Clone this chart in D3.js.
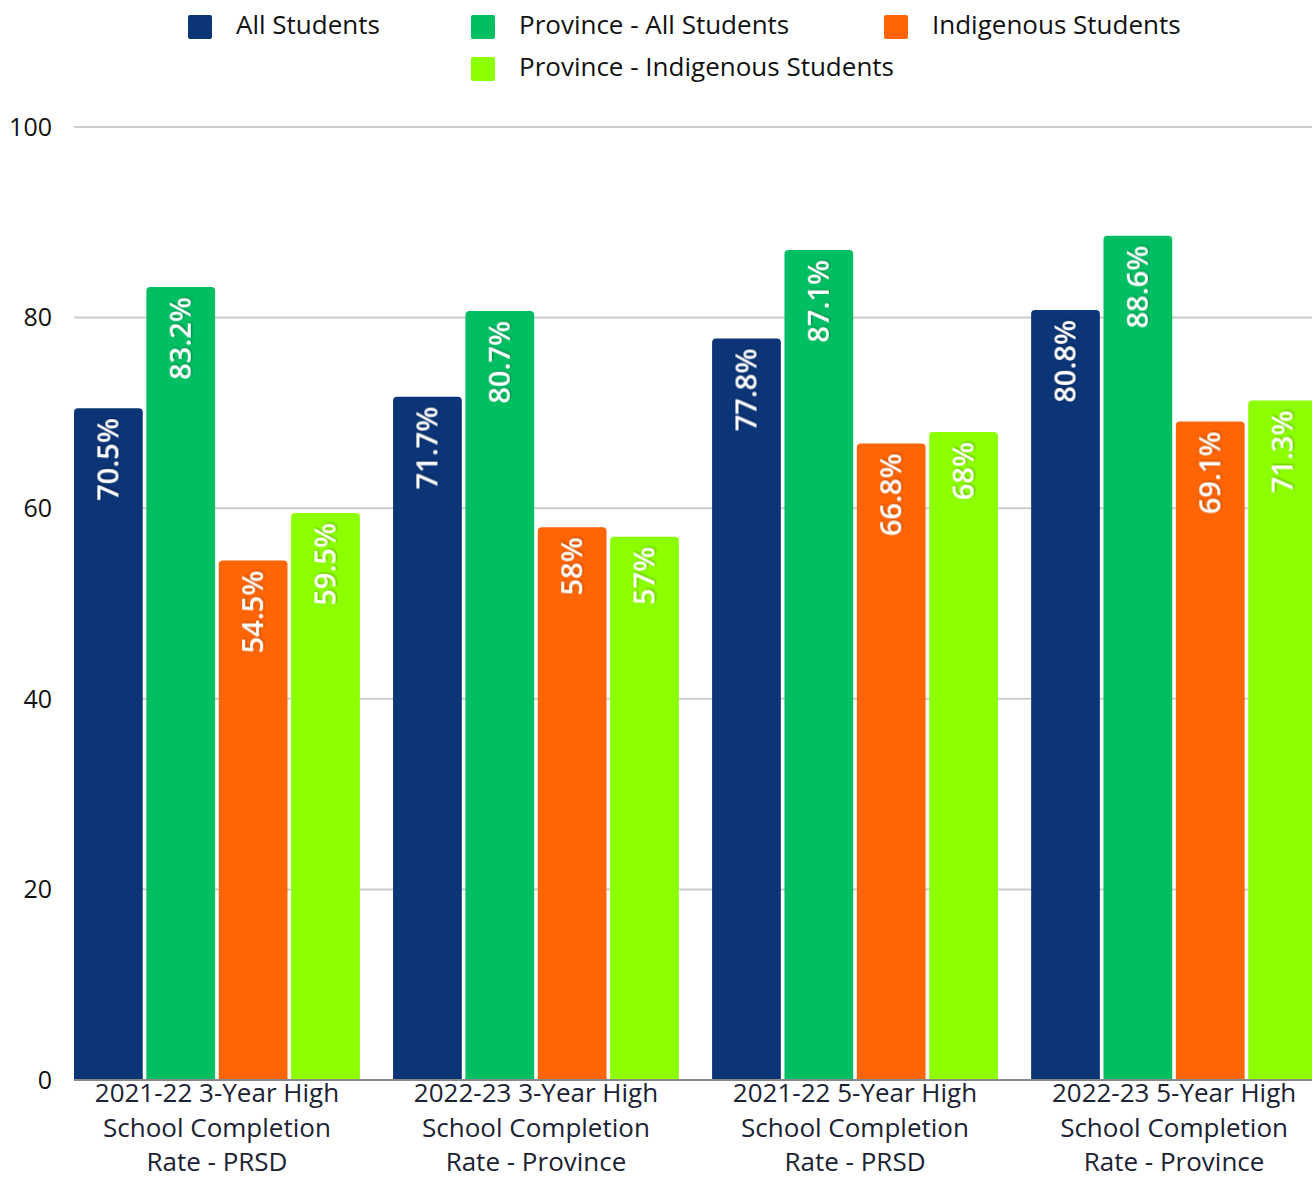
<!DOCTYPE html>
<html>
<head>
<meta charset="utf-8">
<script src="https://cdn.jsdelivr.net/npm/d3@7"></script>
<style>
  body { margin: 0; background: #fff; overflow: hidden; }
  text { font-family: "Open Sans", sans-serif; }
</style>
</head>
<body>
<svg id="chart" width="1312" height="1179"></svg>
<script>
var categories = [
  ["2021-22 3-Year High", "School Completion", "Rate - PRSD"],
  ["2022-23 3-Year High", "School Completion", "Rate - Province"],
  ["2021-22 5-Year High", "School Completion", "Rate - PRSD"],
  ["2022-23 5-Year High", "School Completion", "Rate - Province"]
];
var seriesNames = ["All Students", "Province - All Students", "Indigenous Students", "Province - Indigenous Students"];
var allStudents = [70.5, 71.7, 77.8, 80.8];
var provinceAll = [83.2, 80.7, 87.1, 88.6];
var indigenous = [54.5, 58, 66.8, 69.1];
var provinceIndigenous = [59.5, 57, 68, 71.3];
var yTicks = [0, 20, 40, 60, 80, 100];
var colors = ["#0b3577", "#00bf63", "#ff6505", "#8cff00"];

var seriesValues = [allStudents, provinceAll, indigenous, provinceIndigenous];

var svg = d3.select("#chart");
var plotLeft = 74, plotTop = 127, plotBottom = 1080;

var x0 = d3.scaleBand()
  .domain(d3.range(categories.length))
  .range([plotLeft, 1317])
  .paddingInner(0.104)
  .paddingOuter(0);

var x1 = d3.scaleBand()
  .domain(d3.range(seriesNames.length))
  .range([0, x0.bandwidth()])
  .paddingInner(0.05)
  .paddingOuter(0);

var y = d3.scaleLinear().domain([0, 100]).range([plotBottom, plotTop]);

var defs = svg.append("defs");
var f = defs.append("filter").attr("id", "shadow").attr("x", "-20%").attr("y", "-20%").attr("width", "140%").attr("height", "140%");
f.append("feDropShadow").attr("dx", 1).attr("dy", 1).attr("stdDeviation", 1).attr("flood-color", "#000").attr("flood-opacity", 0.35);

// grid + y labels
var yAxis = svg.append("g").attr("id", "yAxis");
yAxis.selectAll("line")
  .data(yTicks.filter(function(d) { return d > 0; }))
  .enter().append("line")
  .attr("x1", plotLeft).attr("x2", 1312)
  .attr("y1", function(d) { return y(d); })
  .attr("y2", function(d) { return y(d); })
  .attr("stroke", "#cccccc")
  .attr("stroke-width", 2);

yAxis.selectAll("text")
  .data(yTicks)
  .enter().append("text")
  .attr("x", 52)
  .attr("y", function(d) { return y(d); })
  .attr("dy", "0.35em")
  .attr("text-anchor", "end")
  .attr("font-size", 25)
  .attr("fill", "#111")
  .text(function(d) { return d; });

// bars, rounded top corners only
function barPath(x, yTop, w, h, r) {
  return "M" + x + "," + (yTop + h) +
    "V" + (yTop + r) +
    "Q" + x + "," + yTop + " " + (x + r) + "," + yTop +
    "H" + (x + w - r) +
    "Q" + (x + w) + "," + yTop + " " + (x + w) + "," + (yTop + r) +
    "V" + (yTop + h) + "Z";
}

var groups = svg.append("g").attr("id", "bars")
  .selectAll("g")
  .data(categories)
  .enter().append("g")
  .attr("transform", function(d, i) { return "translate(" + x0(i) + ",0)"; });

groups.each(function(cat, ci) {
  var g = d3.select(this);
  var rows = seriesValues.map(function(s, si) { return {series: si, value: s[ci]}; });

  g.selectAll("path")
    .data(rows)
    .enter().append("path")
    .attr("d", function(d) {
      return barPath(x1(d.series), y(d.value), x1.bandwidth(), plotBottom - y(d.value), 4);
    })
    .attr("fill", function(d) { return colors[d.series]; });

  g.selectAll("text.val")
    .data(rows)
    .enter().append("text")
    .attr("class", "val")
    .attr("transform", function(d) {
      return "translate(" + (x1(d.series) + x1.bandwidth() / 2) + "," + (y(d.value) + 10) + ") rotate(-90)";
    })
    .attr("dy", "0.35em")
    .attr("text-anchor", "end")
    .attr("font-size", 29)
    .attr("font-weight", 600)
    .attr("fill", "#fff")
    .attr("filter", "url(#shadow)")
    .text(function(d) { return d.value + "%"; });
});

// baseline
svg.append("line")
  .attr("x1", plotLeft).attr("x2", 1312)
  .attr("y1", plotBottom).attr("y2", plotBottom)
  .attr("stroke", "#888")
  .attr("stroke-width", 2);

// x labels
var xLab = svg.append("g").attr("id", "xAxis");
categories.forEach(function(lines, i) {
  var cx = x0(i) + x0.bandwidth() / 2;
  var t = xLab.append("text")
    .attr("x", cx)
    .attr("y", 1102)
    .attr("text-anchor", "middle")
    .attr("font-size", 26)
    .attr("fill", "#1b2233");
  lines.forEach(function(l, li) {
    t.append("tspan")
      .attr("x", cx)
      .attr("y", 1102 + li * 34.5)
      .text(l);
  });
});

// legend
var legendPos = [[188, 15], [471, 15], [884, 15], [471, 57]];
var legend = svg.append("g").attr("id", "legend")
  .selectAll("g")
  .data(seriesNames)
  .enter().append("g")
  .attr("transform", function(d, i) { return "translate(" + legendPos[i][0] + "," + legendPos[i][1] + ")"; });

legend.append("rect")
  .attr("width", 24).attr("height", 24).attr("rx", 2)
  .attr("fill", function(d, i) { return colors[i]; });

legend.append("text")
  .attr("x", 48)
  .attr("y", 10)
  .attr("dy", "0.35em")
  .attr("font-size", 26)
  .attr("fill", "#111")
  .text(function(d) { return d; });
</script>
</body>
</html>
